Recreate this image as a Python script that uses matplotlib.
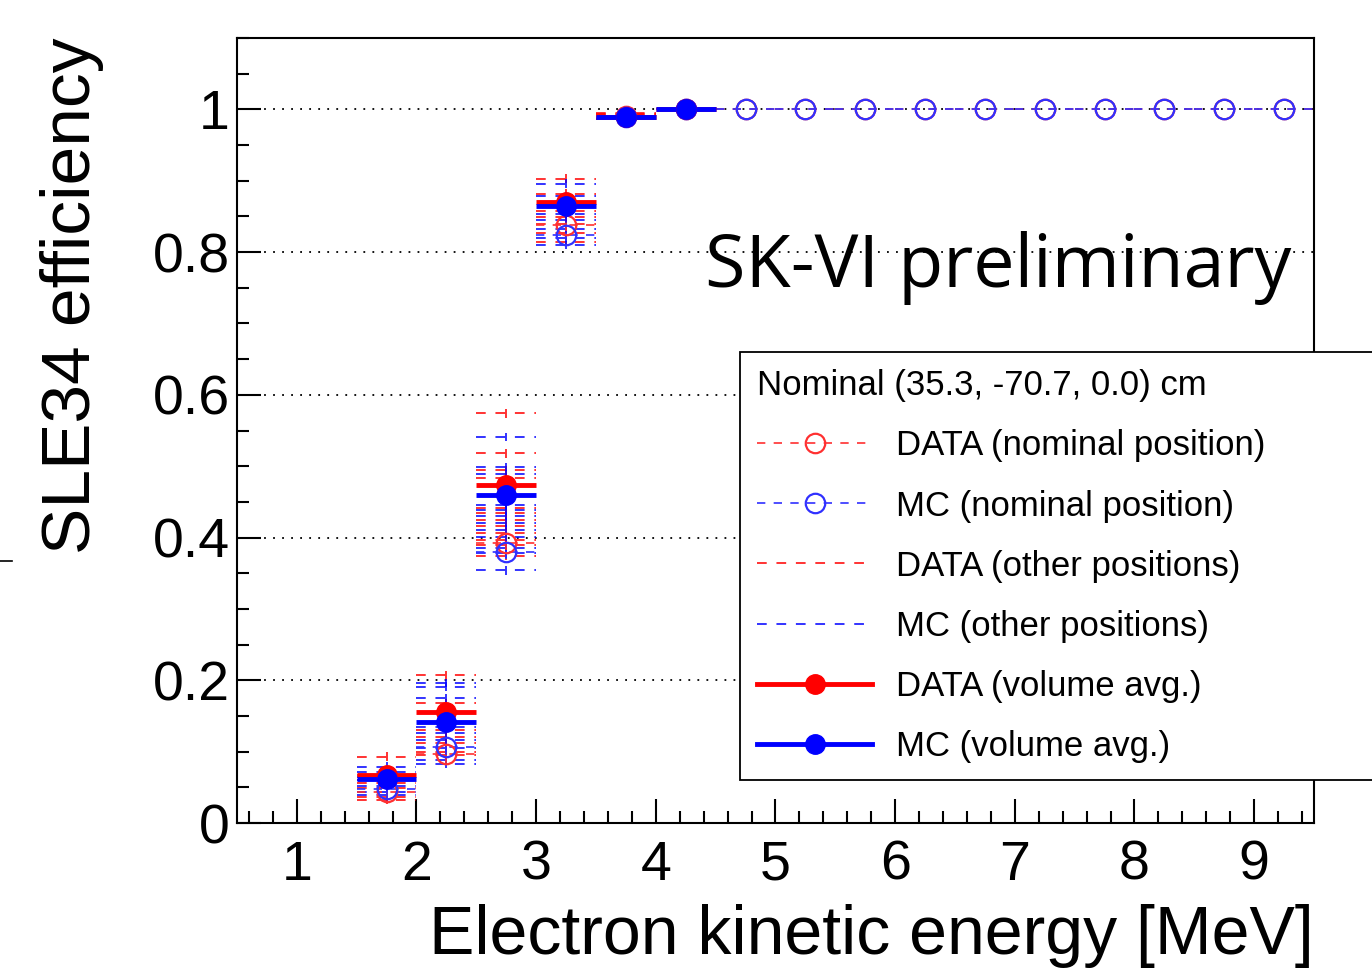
import matplotlib
matplotlib.use("Agg")
import matplotlib.pyplot as plt
from matplotlib.lines import Line2D
from matplotlib.ticker import MultipleLocator

plt.rcParams['font.family'] = ['Liberation Sans', 'DejaVu Sans']

# bin centres [MeV]
energy = [1.75, 2.25, 2.75, 3.25, 3.75, 4.25, 4.75, 5.25, 5.75,
          6.25, 6.75, 7.25, 7.75, 8.25, 8.75, 9.25]
energy_avg = [1.75, 2.25, 2.75, 3.25, 3.75, 4.25]

# nominal position (35.3, -70.7, 0.0) cm
data_nominal = [0.044, 0.096, 0.392, 0.838, 0.991, 1.0, 1.0, 1.0, 1.0,
                1.0, 1.0, 1.0, 1.0, 1.0, 1.0, 1.0]
mc_nominal = [0.047, 0.107, 0.380, 0.824, 0.989, 1.0, 1.0, 1.0, 1.0,
              1.0, 1.0, 1.0, 1.0, 1.0, 1.0, 1.0]
nominal_err = [0.012, 0.012, 0.010, 0.008, 0.003, 0.0, 0.0, 0.0, 0.0,
               0.0, 0.0, 0.0, 0.0, 0.0, 0.0, 0.0]

# volume averages
data_avg = [0.067, 0.155, 0.473, 0.870, 0.990, 1.0]
mc_avg = [0.062, 0.142, 0.460, 0.864, 0.989, 1.0]

# other source positions, one list per bin of energy_avg
data_other = [
    [0.093, 0.067, 0.056, 0.049, 0.037, 0.032, 0.060],
    [0.207, 0.168, 0.130, 0.121, 0.112, 0.100, 0.095],
    [0.574, 0.518, 0.494, 0.484, 0.442, 0.434, 0.425, 0.416, 0.407,
     0.396, 0.389, 0.374],
    [0.903, 0.882, 0.858, 0.849, 0.839, 0.827, 0.814],
    [0.995, 0.992, 0.990, 0.993],
    [1.0, 1.0, 1.0],
]
mc_other = [
    [0.079, 0.072, 0.060, 0.052, 0.044, 0.039, 0.065],
    [0.196, 0.191, 0.175, 0.135, 0.126, 0.116, 0.105, 0.088, 0.083],
    [0.541, 0.499, 0.489, 0.445, 0.438, 0.430, 0.421, 0.411, 0.401,
     0.385, 0.378, 0.354],
    [0.896, 0.878, 0.854, 0.845, 0.833, 0.820, 0.810],
    [0.988, 0.986, 0.990, 0.987],
    [1.0, 1.0, 1.0],
]

RED = (1, 0, 0)
BLUE = (0, 0, 1)
RED_NOM = '#ff3030'
BLUE_NOM = '#3030ff'
DASH = (0, (5, 5))

fig = plt.figure(figsize=(13.72, 9.73), dpi=100)
ax = fig.add_axes([237/1372, 1-823/973, (1314-237)/1372, (823-38)/973])


def dashed(cont, which=(0,)):
    for i in which:
        cont.lines[2][i].set_linestyle(DASH)


# other positions
for col, other in [(RED, data_other), (BLUE, mc_other)]:
    for e, vals in zip(energy_avg, other):
        c = ax.errorbar([e]*len(vals), vals, xerr=0.25, yerr=0.006, fmt='none',
                        ecolor=col, elinewidth=1.4, alpha=0.8, zorder=2)
        dashed(c)

# nominal position
for col, vals in [(RED_NOM, data_nominal), (BLUE_NOM, mc_nominal)]:
    c = ax.errorbar(energy, vals, xerr=0.25, yerr=nominal_err, fmt='o', ms=14,
                    mfc='none', mec=col, mew=1.6, ecolor=col, elinewidth=1.2,
                    zorder=3)
    dashed(c, (0, 1))

# volume averages
for col, vals in [(RED, data_avg), (BLUE, mc_avg)]:
    ax.errorbar(energy_avg, vals, xerr=0.25, yerr=0.004, fmt='o', ms=14,
                color=col, elinewidth=3.5, zorder=4)

ax.set_xlim(0.5, 9.5)
ax.set_ylim(0, 1.1)
ax.xaxis.set_major_locator(MultipleLocator(1))
ax.xaxis.set_minor_locator(MultipleLocator(0.2))
ax.set_yticks([0, 0.2, 0.4, 0.6, 0.8, 1.0])
ax.set_yticklabels(['0', '0.2', '0.4', '0.6', '0.8', '1'])
ax.yaxis.set_minor_locator(MultipleLocator(0.05))
ax.tick_params(which='both', direction='in', top=False, right=False,
               width=1.5, labelsize=40)
ax.tick_params(which='major', length=17)
ax.tick_params(which='minor', length=8.5)
ax.tick_params(axis='x', pad=12)
ax.tick_params(axis='y', pad=5)
for s in ax.spines.values():
    s.set_linewidth(1.5)

for yv in [0.2, 0.4, 0.6, 0.8, 1.0]:
    ax.axhline(yv, color='black', lw=1.3, ls=(0, (1, 4)), zorder=1)

ax.set_xlabel('Electron kinetic energy [MeV]', loc='right', fontsize=49,
              labelpad=9)
ax.set_ylabel('SLE34 efficiency', loc='top', fontsize=50, labelpad=35)

ax.text(0.4345, 0.683, 'SK-VI preliminary', transform=ax.transAxes,
        fontsize=53, va='baseline', ha='left',
        family=['Open Sans', 'DejaVu Sans'], zorder=5)

handles = [
    Line2D([], [], color=RED_NOM, ls=DASH, lw=1.2, marker='o', ms=14,
           mfc='none', mew=1.6),
    Line2D([], [], color=BLUE_NOM, ls=DASH, lw=1.2, marker='o', ms=14,
           mfc='none', mew=1.6),
    Line2D([], [], color=RED, ls=DASH, lw=1.4, alpha=0.8),
    Line2D([], [], color=BLUE, ls=DASH, lw=1.4, alpha=0.8),
    Line2D([], [], color=RED, lw=3.5, marker='o', ms=14),
    Line2D([], [], color=BLUE, lw=3.5, marker='o', ms=14),
]
labels = ['DATA (nominal position)', 'MC (nominal position)',
          'DATA (other positions)', 'MC (other positions)',
          'DATA (volume avg.)', 'MC (volume avg.)']
leg = fig.legend(handles, labels, title='Nominal (35.3, -70.7, 0.0) cm',
                 loc='upper left', mode='expand',
                 bbox_to_anchor=(740/1372, 0, 0.55, 1-352/973),
                 bbox_transform=fig.transFigure, borderaxespad=0,
                 fontsize=25, title_fontsize=25, alignment='left',
                 handlelength=3.3, handletextpad=0.7, labelspacing=0.78,
                 borderpad=0.5, fancybox=False, framealpha=1,
                 edgecolor='black')
leg.get_frame().set_linewidth(1.3)

# stray tick mark at the left edge of the canvas
fig.add_artist(Line2D([0, 12/1372], [1-561/973, 1-561/973], color='black',
                      lw=1.2, transform=fig.transFigure))

fig.savefig('out.png', dpi=100)
